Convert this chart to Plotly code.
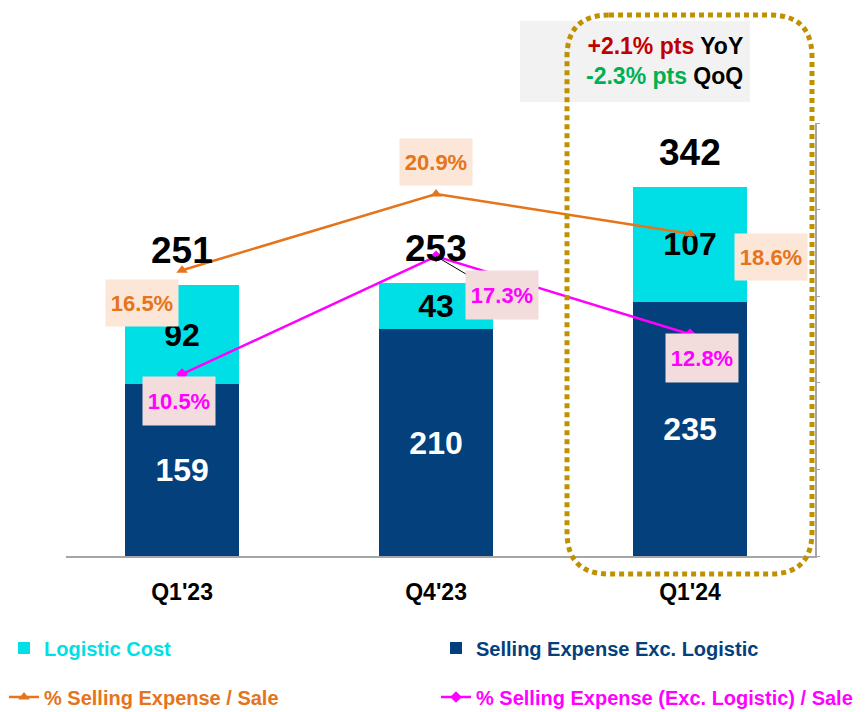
import plotly.graph_objects as go

# --- Data ---
quarters = ["Q1'23", "Q4'23", "Q1'24"]
selling_exc_logistic = [159, 210, 235]
logistic_cost = [92, 43, 107]
total_expense = [251, 253, 342]
pct_selling = [16.5, 20.9, 18.6]
pct_selling_exc_log = [10.5, 17.3, 12.8]
yoy_change = "+2.1% pts"
qoq_change = "-2.3% pts"

# --- Styles ---
NAVY = "#03407C"
CYAN = "#00DFE6"
ORANGE = "#E5741B"
MAGENTA = "#FF00FF"
PEACH = "#FCE6D8"
PINK = "#F2DCDC"
GOLD = "#BF9000"
AXIS = "#A6A6A6"
ARIAL = "Liberation Sans, Arial, sans-serif"

# page body has an 8px margin, so the figure is drawn 8px in from the corner
OFF = 8
W, H = 866 - OFF, 712 - OFF
L, R, T, B = 58, 51, 115, 156
PW, PH = W - L - R, H - T - B


def px(x):
    # screen x -> paper x
    return (x - OFF - L) / PW


def py(y):
    # screen y -> paper y
    return (H - B - (y - OFF)) / PH


fig = go.Figure()

fig.add_trace(go.Bar(
    x=quarters, y=selling_exc_logistic, width=0.45,
    name=f"<span style='color:{NAVY}'>Selling Expense Exc. Logistic</span>",
    marker=dict(color=NAVY, line=dict(width=0)),
    text=selling_exc_logistic, textposition="inside", insidetextanchor="middle",
    textangle=0, constraintext="none",
    insidetextfont=dict(color="white", size=32, family=ARIAL, weight="bold"),
    legend="legend2",
))
fig.add_trace(go.Bar(
    x=quarters, y=logistic_cost, width=0.45,
    name=f"<span style='color:{CYAN}'>Logistic Cost</span>",
    marker=dict(color=CYAN, line=dict(width=0)),
    text=logistic_cost, textposition="inside", insidetextanchor="middle",
    textangle=0, constraintext="none",
    insidetextfont=dict(color="black", size=32, family=ARIAL, weight="bold"),
    legend="legend",
))
fig.add_trace(go.Scatter(
    x=quarters, y=pct_selling, yaxis="y2", mode="lines+markers",
    name=f"<span style='color:{ORANGE}'>% Selling Expense / Sale</span>",
    line=dict(color=ORANGE, width=2.5),
    marker=dict(symbol="triangle-up", size=10, color=ORANGE),
    legend="legend3",
))
fig.add_trace(go.Scatter(
    x=quarters, y=pct_selling_exc_log, yaxis="y2", mode="lines+markers",
    name=f"<span style='color:{MAGENTA}'>% Selling Expense (Exc. Logistic) / Sale</span>",
    line=dict(color=MAGENTA, width=2.5),
    marker=dict(symbol="diamond", size=9, color=MAGENTA),
    legend="legend4",
))

annotations = []
# totals above the bars
for q, t in zip(quarters, total_expense):
    annotations.append(dict(
        x=q, y=t, yref="y", text=f"<b>{t}</b>", showarrow=False,
        yshift=34, font=dict(size=37, color="black", family=ARIAL),
    ))

# percentage labels
orange_off = [(-40, -33), (0, 32), (81, -23)]
for q, v, (dx, dy) in zip(quarters, pct_selling, orange_off):
    annotations.append(dict(
        x=q, y=v, yref="y2", text=f"<b>{v:.1f}%</b>", showarrow=False,
        xshift=dx, yshift=dy, bgcolor=PEACH, width=70, height=44,
        font=dict(size=22, color=ORANGE, family=ARIAL),
    ))

magenta_off = [(-3, -27), (66, -39), (12, -24)]
for i, (q, v, (dx, dy)) in enumerate(zip(quarters, pct_selling_exc_log, magenta_off)):
    a = dict(
        x=q, y=v, yref="y2", text=f"<b>{v:.1f}%</b>",
        bgcolor=PINK, width=70, height=46,
        font=dict(size=22, color=MAGENTA, family=ARIAL),
    )
    if i == 1:
        a.update(showarrow=True, ax=dx, ay=-dy, arrowhead=0, arrowwidth=1,
                 arrowcolor="black", standoff=0)
    else:
        a.update(showarrow=False, xshift=dx, yshift=dy)
    annotations.append(a)

# YoY / QoQ note
annotations.append(dict(
    xref="paper", yref="paper", x=px(745), y=py(61), showarrow=False,
    xanchor="right", yanchor="middle", align="right",
    text=(f"<b><span style='color:#C00000'>{yoy_change}</span> YoY</b><br>"
          f"<b><span style='color:#00B050'>{qoq_change}</span> QoQ</b>"),
    font=dict(size=23, color="black", family=ARIAL),
))

# rounded dotted highlight box
x0, x1, y0, y1, r = 567, 812, 15, 574, 42
pts = [
    ("M", (x0 + r, y0)), ("L", (x1 - r, y0)), ("Q", (x1, y0), (x1, y0 + r)),
    ("L", (x1, y1 - r)), ("Q", (x1, y1), (x1 - r, y1)),
    ("L", (x0 + r, y1)), ("Q", (x0, y1), (x0, y1 - r)),
    ("L", (x0, y0 + r)), ("Q", (x0, y0), (x0 + r, y0)),
]
path = ""
for seg in pts:
    path += seg[0] + " ".join(f"{px(a):.5f},{py(b):.5f}" for a, b in seg[1:]) + " "
path += "Z"

shapes = [
    dict(type="rect", xref="paper", yref="paper", x0=px(520), x1=px(750),
         y0=py(102), y1=py(21), fillcolor="#F2F2F2", line=dict(width=0),
         layer="below"),
    dict(type="path", xref="paper", yref="paper", path=path,
         line=dict(color=GOLD, width=5, dash="5px,4px")),
]

legend_style = dict(
    orientation="h", xanchor="left", yanchor="middle",
    font=dict(size=20, family=ARIAL, weight="bold"),
    bgcolor="rgba(0,0,0,0)", itemclick=False, itemdoubleclick=False,
)

fig.update_layout(
    width=W, height=H,
    margin=dict(l=L, r=R, t=T, b=B, autoexpand=False),
    plot_bgcolor="white", paper_bgcolor="white",
    barmode="stack",
    xaxis=dict(range=[-0.457, 2.492], showline=True, linecolor=AXIS, linewidth=2,
               ticks="outside", ticklen=14, tickcolor="rgba(0,0,0,0)",
               tickfont=dict(size=23, color="black", family=ARIAL, weight="bold"),
               showgrid=False, zeroline=False),
    yaxis=dict(range=[0, 401], visible=False, showgrid=False),
    yaxis2=dict(range=[0, 25], dtick=5, overlaying="y", side="right",
                showline=True, linecolor=AXIS, linewidth=2, ticks="outside",
                ticklen=3, tickcolor=AXIS, showticklabels=False,
                showgrid=False, zeroline=False),
    legend=dict(x=px(4), y=py(648), **legend_style),
    legend2=dict(x=px(436), y=py(648), **legend_style),
    legend3=dict(x=px(4), y=py(697), **legend_style),
    legend4=dict(x=px(436), y=py(697), **legend_style),
    annotations=annotations,
    shapes=shapes,
    showlegend=True,
)

fig.write_html("out.html")
